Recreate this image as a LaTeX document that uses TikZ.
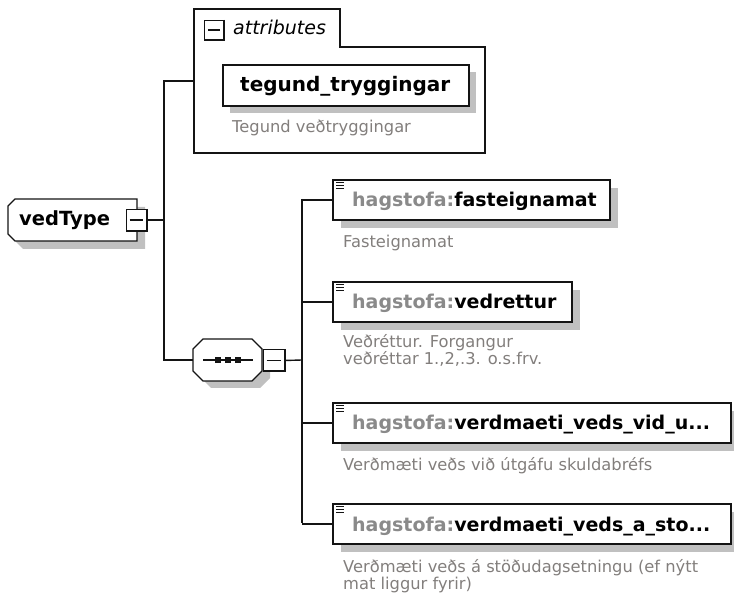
\documentclass[tikz,border=0pt]{standalone}
\usepackage{fontspec}
\setmainfont{DejaVu Sans}
\definecolor{pfx}{RGB}{138,138,138}
\definecolor{desc}{RGB}{130,126,124}
\definecolor{shd}{RGB}{192,192,192}
\definecolor{ln}{RGB}{20,20,20}
\tikzset{
  conn/.style={line width=1.4pt, draw=ln},
  ebox/.style={draw=ln, line width=2pt, fill=white, inner sep=0pt, anchor=north west},
  shad/.style={fill=shd},
  mbox/.style={draw=ln, line width=1pt, fill=white, minimum width=20pt, minimum height=21pt, inner sep=0pt},
  nametext/.style={anchor=base west, inner sep=0pt, font=\fontsize{19}{23}\selectfont\bfseries},
  desctext/.style={anchor=base west, inner sep=0pt, align=left, text=desc, font=\fontsize{16.3}{17}\selectfont},
  icon/.style={line width=1pt, draw=ln}
}
\begin{document}
\begin{tikzpicture}[x=1pt,y=-1pt]
\useasboundingbox (0,0) rectangle (734,601);

% ---------- attributes group ----------
\draw[conn, fill=white] (194,9) -- (340,9) -- (340,47) -- (485,47) -- (485,153) -- (194,153) -- cycle;
\coordinate (attl) at (194,81);
\node[mbox, minimum width=19pt, minimum height=19pt] (attm) at (214,30) {};
\draw[line width=2pt, draw=ln] (attm.north east) -- (attm.south east) -- (attm.south west);
\draw[line width=1.2pt, draw=ln] ([xshift=4pt]attm.west) -- ([xshift=-4pt]attm.east);
\node[anchor=base west, inner sep=0pt, font=\fontsize{19}{22}\selectfont\itshape] (attt) at (233,35) {attributes};

\fill[shad] (230,72) rectangle (476,113);
\node[ebox, minimum width=246pt, minimum height=41pt] (tg) at (222,64) {};
\node[nametext, font=\fontsize{20}{23}\selectfont\bfseries] (tgt) at (240,92) {tegund\_tryggingar};
\node[desctext] (tgd) at (232,133) {Tegund veðtryggingar};

% ---------- vedType ----------
\fill[shad] (23,207) -- (145,207) -- (145,249) -- (23,249) -- (16,242) -- (16,214) -- cycle;
\draw[conn, fill=white] (15,199) -- (137,199) -- (137,241) -- (15,241) -- (8,234) -- (8,206) -- cycle;
\node[anchor=base west, inner sep=0pt, font=\fontsize{19.5}{23}\selectfont\bfseries] (vt) at (19,226) {vedType};
\node[mbox] (vtm) at (136,220) {};
\draw[line width=2pt, draw=ln] (vtm.north east) -- (vtm.south east) -- (vtm.south west);
\draw[line width=1.2pt, draw=ln] ([xshift=4pt]vtm.west) -- ([xshift=-4pt]vtm.east);

\coordinate (j0) at (164,220);
\coordinate (ja) at (164,81);
\coordinate (js) at (164,360);
\draw[conn] (vtm.east) -- (j0);
\draw[conn] (attl) -- (ja) -- (js) -- (193,360);

% ---------- sequence ----------
\fill[shad] (211,346) -- (260,346) -- (270,356) -- (270,378) -- (260,388) -- (211,388) -- (201,378) -- (201,356) -- cycle;
\draw[conn, fill=white] (203,339) -- (252,339) -- (262,349) -- (262,371) -- (252,381) -- (203,381) -- (193,371) -- (193,349) -- cycle;
\coordinate (seqw) at (193,360);
\draw[line width=1.2pt, draw=ln] (203,360) -- (253,360);
\foreach \sx in {218,228,238} \fill[ln] (\sx-2.8,357.2) rectangle (\sx+2.8,362.8);
\node[mbox, minimum width=21pt] (sqm) at (273.5,360.5) {};
\draw[line width=2pt, draw=ln] (sqm.north east) -- (sqm.south east) -- (sqm.south west);
\draw[line width=1.2pt, draw=ln] ([xshift=4pt]sqm.west) -- ([xshift=-4pt]sqm.east);

\coordinate (k0) at (302,360);
\coordinate (k1) at (302,199);
\coordinate (k4) at (302,523);
\draw[conn] (sqm.east) -- (k0);
\draw[conn] (k1) -- (k4);

% ---------- elements ----------
\fill[shad] (341,188) rectangle (618,228);
\fill[shad] (341,290) rectangle (580,330);
\fill[shad] (341,411) rectangle (739,451);
\fill[shad] (341,512) rectangle (739,552);

\node[ebox, minimum width=277pt, minimum height=40pt] (e1) at (332,179) {};
\node[ebox, minimum width=239pt, minimum height=40pt] (e2) at (332,281) {};
\node[ebox, minimum width=398pt, minimum height=40pt] (e3) at (332,402) {};
\node[ebox, minimum width=398pt, minimum height=40pt] (e4) at (332,503) {};

\foreach \e in {e1,e2,e3,e4}{
  \draw[conn] (k1 |- \e.west) -- (\e.west);
  \foreach \dy in {3.5,6.5,9.5}
    \draw[icon] ([shift={(4pt,-\dy pt)}]\e.north west) -- ([shift={(12pt,-\dy pt)}]\e.north west);
}

\node[nametext] (e1t) at (352,207) {\textcolor{pfx}{hagstofa:}fasteignamat};
\node[nametext] (e2t) at (352,309) {\textcolor{pfx}{hagstofa:}vedrettur};
\node[nametext] (e3t) at (352,430) {\textcolor{pfx}{hagstofa:}verdmaeti\_veds\_vid\_u...};
\node[nametext] (e4t) at (352,531) {\textcolor{pfx}{hagstofa:}verdmaeti\_veds\_a\_sto...};

% multi-line descriptions: base anchor is the baseline of the last line
\node[desctext] (e1d) at (343,248) {Fasteignamat};
\node[desctext] (e2d) at (343,365) {Veðréttur. Forgangur\\veðréttar 1.,2,.3. o.s.frv.};
\node[desctext] (e3d) at (343,471) {Verðmæti veðs við útgáfu skuldabréfs};
\node[desctext] (e4d) at (343,589) {Verðmæti veðs á stöðudagsetningu (ef nýtt\\mat liggur fyrir)};
\end{tikzpicture}
\end{document}
